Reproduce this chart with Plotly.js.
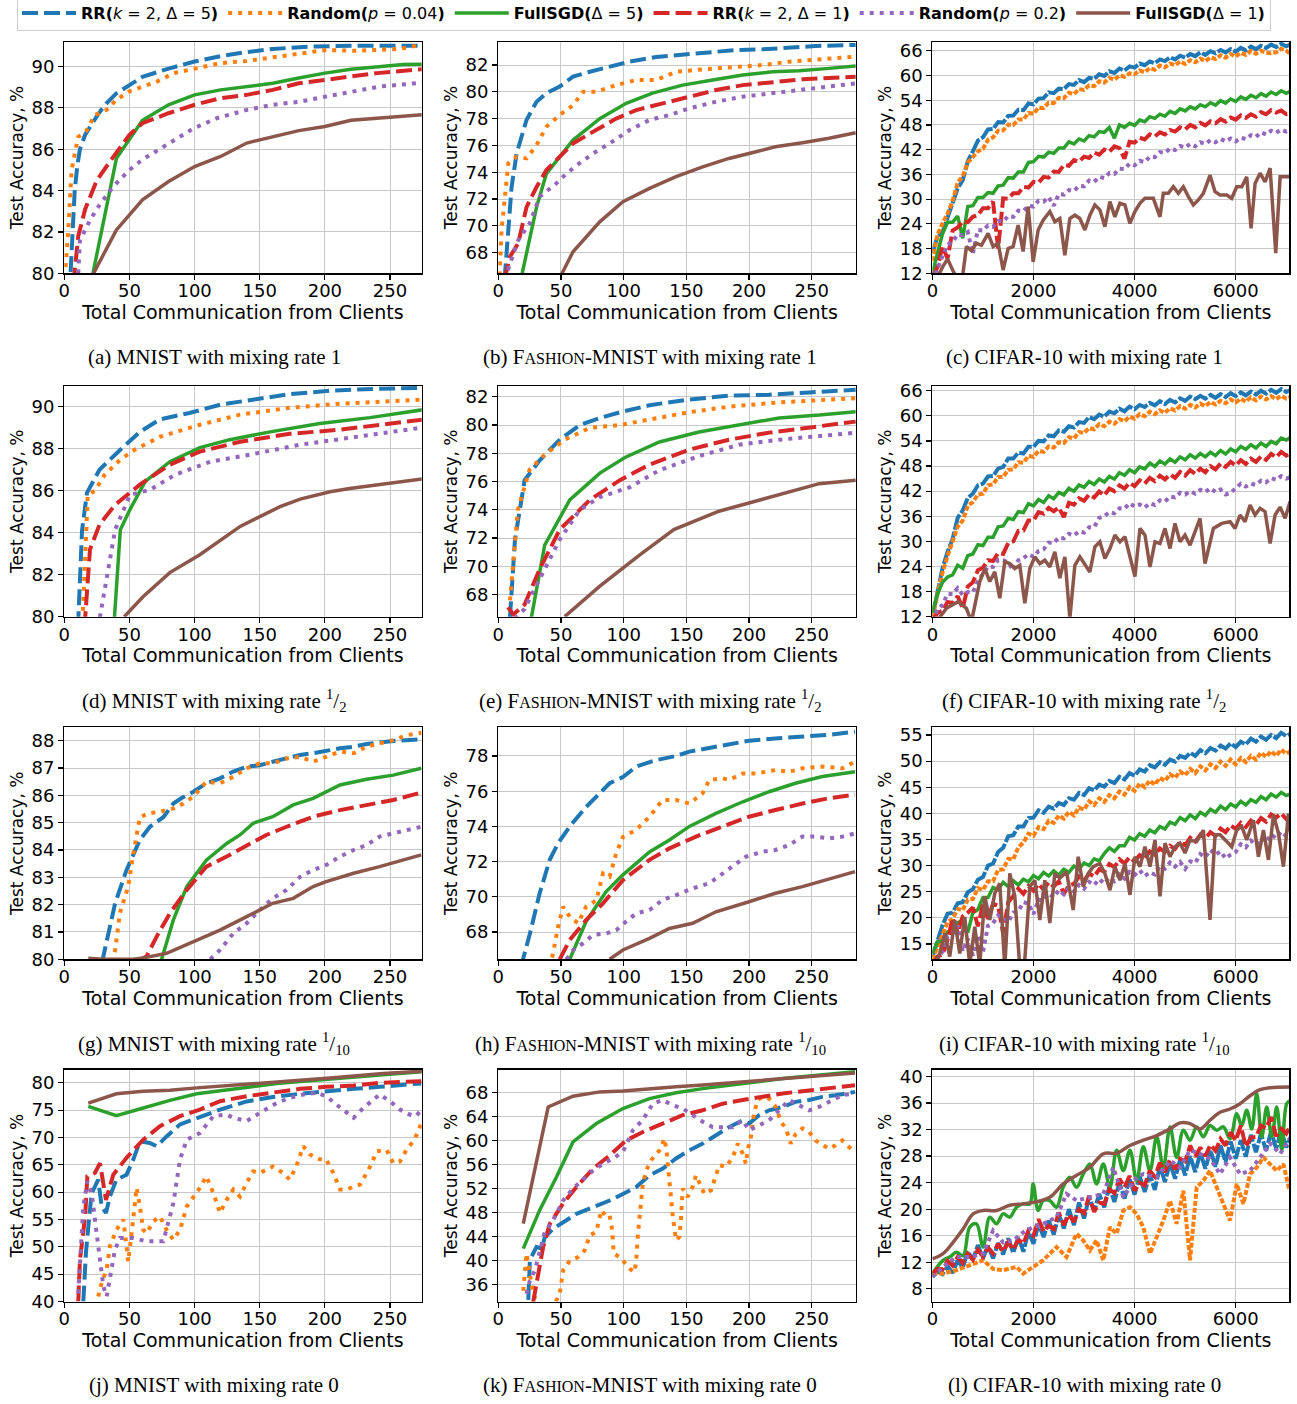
<!DOCTYPE html>
<html><head><meta charset="utf-8">
<script src="https://cdn.plot.ly/plotly-3.0.1.min.js"></script>
<style>body{margin:0;background:#fff}#plot{width:1297px;height:1404px}</style>
</head><body><div id="plot"></div>
<script>
// ---------- series names ----------
const seriesNames = [
  "<b>RR(</b><i>k</i> = 2, Δ = 5<b>)</b>",
  "<b>Random(</b><i>p</i> = 0.04<b>)</b>",
  "<b>FullSGD(</b>Δ = 5<b>)</b>",
  "<b>RR(</b><i>k</i> = 2, Δ = 1<b>)</b>",
  "<b>Random(</b><i>p</i> = 0.2<b>)</b>",
  "<b>FullSGD(</b>Δ = 1<b>)</b>"
];
const captions = [
  "(a) MNIST with mixing rate 1",
  "(b) F<span style='font-size:16px'>ASHION</span>-MNIST with mixing rate 1",
  "(c) CIFAR-10 with mixing rate 1",
  "(d) MNIST with mixing rate <sup>1</sup>/<sub>2</sub>",
  "(e) F<span style='font-size:16px'>ASHION</span>-MNIST with mixing rate <sup>1</sup>/<sub>2</sub>",
  "(f) CIFAR-10 with mixing rate <sup>1</sup>/<sub>2</sub>",
  "(g) MNIST with mixing rate <sup>1</sup>/<sub>10</sub>",
  "(h) F<span style='font-size:16px'>ASHION</span>-MNIST with mixing rate <sup>1</sup>/<sub>10</sub>",
  "(i) CIFAR-10 with mixing rate <sup>1</sup>/<sub>10</sub>",
  "(j) MNIST with mixing rate 0",
  "(k) F<span style='font-size:16px'>ASHION</span>-MNIST with mixing rate 0",
  "(l) CIFAR-10 with mixing rate 0"
];
const xTitle = "Total Communication from Clients";
const yTitle = "Test Accuracy, %";

// ---------- (a) MNIST, mixing 1 ----------
const a_rr5_x=[4,6,8,10,12,16,20,26,32,40,50,60,80,100,120,140,160,190,220,250,274];
const a_rr5_y=[79,82,84,85.2,86,86.7,87.1,87.7,88.2,88.7,89.1,89.5,89.9,90.24,90.5,90.7,90.85,90.97,91.0,90.98,91.0];
const a_r04_x=[1,3,5.6,10.7,17,23.5,32.5,40,50,60,71,84,99,119.5,140,160,181,201,222,242,258,274];
const a_r04_y=[80.3,82,85,86.6,86.9,87.66,87.9,88.4,88.8,89.0,89.27,89.68,89.87,90.16,90.27,90.45,90.6,90.8,90.76,90.8,90.85,91.05];
const a_fs5_x=[20,22,40,60,80,100,120,140,160,180,200,220,240,260,280];
const a_fs5_y=[79.6,80,85.56,87.4,88.15,88.63,88.87,89.03,89.19,89.44,89.68,89.87,89.97,90.1,90.12];
const a_rr1_x=[7,10.7,16,25,35,50,60,80,100,120,140,160,180,200,220,240,280];
const a_rr1_y=[79.5,81.8,83.1,84.5,85.4,86.7,87.26,87.74,88.15,88.47,88.63,88.87,89.19,89.35,89.52,89.68,89.9];
const a_r2_x=[10.7,12,20,27,37.6,50,60,73,84,99,117,140,160,181,201,222,242,280];
const a_r2_y=[80,81.6,82.6,83.3,84.2,85,85.5,86,86.45,87,87.5,87.9,88.15,88.3,88.55,88.8,89.03,89.25];
const a_fs1_x=[20,40,60,80,100,120,140,160,180,200,220,240,280];
const a_fs1_y=[79.7,82.1,83.55,84.44,85.16,85.65,86.3,86.6,86.9,87.1,87.4,87.5,87.7];

// ---------- (b) Fashion-MNIST, mixing 1 ----------
const b_rr5_x=[5,8,10.6,14.6,22.5,30.5,38.4,49,59.6,73,88.8,104.7,126,147,168,189.6,211,232,253,285];
const b_rr5_y=[66,69.7,72.9,75.4,77.9,79.26,79.9,80.4,81.13,81.5,81.88,82.25,82.6,82.75,82.92,83.12,83.17,83.32,83.42,83.5];
const b_r04_x=[1,2.6,5.3,8,14.6,22.5,30.5,38.4,49,59.6,67.6,78,94,110,126,141.8,157.7,173.6,189.6,211,232,253,285];
const b_r04_y=[66.3,69.7,72.2,74.66,75.16,75.03,76.03,77.4,78.27,79.0,80.0,80.0,80.5,80.88,80.88,81.5,81.63,81.75,81.88,82.0,82.25,82.37,82.62];
const b_fs5_x=[18,30.5,38.4,59.6,80.9,102,123,147,171,195,218.7,240,263.8,285];
const b_fs5_y=[66,71.4,73.9,76.4,78.0,79.14,79.9,80.5,80.88,81.25,81.5,81.58,81.75,81.93];
const b_rr1_x=[5,9.3,15.9,22.5,30.5,38.4,49,59.6,78,94,110,131,152.4,173.6,195,218.7,242.6,285];
const b_rr1_y=[66,67.7,68.7,71.4,72.9,74.16,75.16,76.15,77.15,78.0,78.64,79.14,79.64,80.13,80.5,80.75,80.93,81.13];
const b_r2_x=[5,9.3,15.9,25,33,46.4,54.3,62.3,75.6,88.8,104.7,120.6,136.5,152.4,173.6,195,216,237,258.5,285];
const b_r2_y=[66,67.2,68.94,70.18,72.17,73.17,73.9,74.5,75.4,76.15,77.15,77.9,78.27,78.77,79.26,79.64,79.88,80.13,80.38,80.63];
const b_fs1_x=[50,59.6,80.9,99.4,120.6,141.8,163,184,205.5,221,242.6,263.8,285];
const b_fs1_y=[66.3,68.07,70.3,71.8,72.8,73.67,74.4,75.03,75.53,75.9,76.2,76.53,76.95];

// ---------- CIFAR-10 common communication grid ----------
const cx=[0,100,200,300,400,500,600,700,800,900,
1000,1100,1200,1300,1400,1500,1600,1700,1800,1900,
2000,2100,2200,2300,2400,2500,2600,2700,2800,2900,
3000,3100,3200,3300,3400,3500,3600,3700,3800,3900,
4000,4100,4200,4300,4400,4500,4600,4700,4800,4900,
5000,5100,5200,5300,5400,5500,5600,5700,5800,5900,
6000,6100,6200,6300,6400,6500,6600,6700,6800,6900,
7000,7100];

// ---------- (c) CIFAR-10, mixing 1 ----------
const c_rr5_y=[17.0,20.8,22.0,25.6,29.0,32.6,34.6,39.2,41.6,44.2,
45.0,46.9,47.0,48.7,48.6,50.2,50.3,51.7,51.6,53.2,
53.0,54.4,54.5,55.9,55.7,56.8,56.7,57.9,57.7,58.9,
58.4,59.4,59.2,60.3,59.9,61.0,60.6,61.7,61.2,62.2,
61.9,62.9,62.5,63.4,63.0,63.9,63.5,64.4,63.9,64.8,
64.3,65.2,64.7,65.6,65.0,65.9,65.4,66.2,65.6,66.4,
65.8,66.7,66.1,67.0,66.4,67.2,66.7,67.5,66.9,67.7,
67.1,67.6];
const c_r04_y=[15.0,21.4,24.1,26.5,29.6,34.0,35.6,38.9,40.2,41.6,
42.2,44.4,45.0,46.6,46.7,48.1,48.0,49.3,49.3,50.9,
50.7,52.2,52.1,53.4,53.3,54.6,54.5,55.8,55.5,56.7,
56.5,57.6,57.4,58.6,58.3,59.4,59.0,60.0,59.7,60.5,
60.3,61.2,60.8,61.8,61.4,62.4,62.0,62.9,62.5,63.4,
62.8,63.7,63.2,64.1,63.5,64.4,64.0,64.9,64.3,65.2,
64.6,65.5,65.0,65.9,65.3,66.0,65.5,65.4,65.6,66.5,
66.0,65.0];
const c_fs5_y=[12.0,16.5,21.6,24.4,24.4,25.9,20.5,28.2,28.4,30.4,
30.4,31.6,31.4,33.2,33.4,35.2,35.1,36.6,36.6,38.9,
39.1,40.4,40.2,41.4,41.1,42.4,42.4,43.9,43.4,44.6,
44.1,45.4,45.1,46.4,46.2,47.4,44.8,48.0,47.4,48.4,
47.9,49.2,48.8,50.0,49.6,50.6,50.1,51.3,50.8,51.9,
51.4,52.4,51.9,52.9,52.4,53.4,52.8,53.9,53.3,54.3,
53.7,54.8,54.2,55.2,54.6,55.6,55.0,56.0,55.4,56.3,
55.7,56.3];
const c_rr1_y=[11.0,13.5,18.5,15.6,22.4,23.1,24.6,24.4,25.7,26.1,
27.8,27.8,29.4,18.0,30.2,30.1,31.4,31.4,33.0,32.8,
34.2,34.0,35.4,35.2,36.7,36.6,38.3,38.1,39.5,39.1,
40.3,40.0,41.3,40.8,42.0,41.5,42.8,42.4,39.8,43.9,
43.7,44.9,44.5,45.7,45.2,46.2,45.7,46.8,46.4,47.4,
46.9,48.0,47.4,48.5,47.9,48.9,48.4,49.4,48.8,49.8,
49.3,50.3,49.7,50.6,50.0,51.1,50.6,51.6,51.0,51.5,
50.6,50.8];
const c_r2_y=[10.0,13.3,16.2,18.9,19.7,21.4,21.2,22.0,16.8,22.5,
22.4,23.6,23.3,24.7,24.6,25.9,25.7,27.2,27.1,28.4,
28.2,29.6,29.4,30.5,28.4,31.2,31.1,32.2,32.0,33.2,
33.1,34.5,34.2,35.4,35.1,36.3,36.1,37.4,37.3,38.6,
38.2,39.3,39.0,40.3,40.2,41.4,41.2,42.3,41.9,42.9,
42.5,43.4,42.8,43.8,43.4,44.3,43.8,44.6,44.0,44.7,
44.0,44.9,44.6,45.5,45.1,46.2,45.7,46.6,46.1,46.9,
46.4,47.0];
const c_fs1_x=[0,100,200,300,400,500,600,673,772,871,970,1102,1201,1300,1399,1498,1597,1696,1795,1894,1993,2092,2191,2323,2422,2521,2620,2719,2818,2917,3016,3115,3214,3313,3412,3511,3610,3709,3808,3907,4006,4105,4204,4370,4502,4568,4667,4766,4865,4964,5063,5162,5261,5360,5492,5591,5690,5822,5921,6020,6119,6218,6304,6383,6482,6581,6680,6792,6878,7076];
const c_fs1_y=[10,11,13.5,15.5,12.8,10.5,11.5,18.5,17.5,19.3,18.8,21.7,18.5,19.3,12.8,18,18.5,23.7,17.3,28.2,14.8,22.5,24.9,27,24.5,25.3,16.4,25.3,26.1,25.3,22.5,26.1,28.6,27.4,23.3,29.4,25.7,29,28.6,24.1,27,29,30.2,30.2,25.7,31.4,31.4,33,31.4,33,30.6,28.6,29.8,31.4,35.8,31.8,31,31,30.2,33,33,35.4,22.9,33.8,36.3,34.2,37.5,16.9,35.4,35.4];

// ---------- (d) MNIST, mixing 1/2 ----------
const d_rr5_x=[10.5,13.6,17.4,27,43,58,73.5,96,120,142,173,204,242,280];
const d_rr5_y=[79.5,84.1,85.9,87,87.95,88.8,89.4,89.7,90.1,90.3,90.6,90.76,90.86,90.9];
const d_r04_x=[14,18,23.5,31,43,54,73.5,104,135,173,211,280];
const d_r04_y=[79.8,85.8,86,86.76,87.48,87.95,88.57,89.14,89.62,89.95,90.14,90.35];
const d_fs5_x=[38,43,50.4,62,81,104,127,158,196,234.6,280];
const d_fs5_y=[79.5,84.14,85.1,86.43,87.38,88.05,88.43,88.8,89.2,89.48,89.9];
const d_rr1_x=[15.5,19.7,27,39,58,81,104,135,173,211,280];
const d_rr1_y=[79.5,83.2,84.38,85.33,86.29,87.24,87.86,88.33,88.71,88.9,89.42];
const d_r2_x=[26,33.5,39,50.4,66,85,112,142,181,219,280];
const d_r2_y=[79.5,82.24,84.14,85.8,86.05,86.76,87.38,87.71,88.19,88.52,89.05];
const d_fs1_x=[46,60.4,81,104,135,165.6,181,204,219,242,280];
const d_fs1_y=[80,80.95,82.1,82.95,84.3,85.24,85.6,85.95,86.1,86.3,86.6];

// ---------- (e) Fashion-MNIST, mixing 1/2 ----------
const e_rr5_x=[9.3,13.3,21,33,49,65,81,97,120.6,152,184,216,248,285];
const e_rr5_y=[66.4,71.9,76.1,77.5,78.96,80,80.5,80.9,81.4,81.8,82.07,82.14,82.3,82.5];
const e_r04_x=[9.3,15.6,25,37,53,73,97,120.6,152,184,224,285];
const e_r04_y=[67.6,74,76.84,77.9,78.96,79.8,80.0,80.4,80.9,81.3,81.6,81.9];
const e_fs5_x=[26,37,57,81,101,128.5,160,192,224,256,285];
const e_fs5_y=[66.2,71.5,74.7,76.6,77.7,78.8,79.5,80,80.5,80.7,80.94];
const e_rr1_x=[7.7,12,21,33,49,73,97,120.6,152,184,216,248,285];
const e_rr1_y=[67.1,66.6,67.3,69.8,72.6,74.7,76.1,77.2,78.25,78.96,79.46,79.8,80.24];
const e_r2_x=[13.3,21,33,49,65,81,105,128.5,160,192,224,285];
const e_r2_y=[66.3,67,69.1,71.9,74,74.9,75.6,76.8,77.8,78.6,78.96,79.45];
const e_fs1_x=[53,81,112.6,140,176,216,256,285];
const e_fs1_y=[66.45,68.6,70.8,72.6,73.9,74.9,75.85,76.1];

// ---------- (f) CIFAR-10, mixing 1/2 ----------
const f_rr5_y=[12.0,17.4,23.6,27.5,30.6,35.6,37.4,40.4,41.4,43.4,
43.8,45.5,45.6,47.4,47.8,49.8,49.8,51.2,51.0,52.6,
52.6,54.0,53.9,55.3,55.1,56.5,56.2,57.5,57.2,58.5,
58.3,59.7,59.2,60.3,59.8,61.0,60.6,61.7,61.1,62.2,
61.6,62.6,62.1,63.1,62.5,63.5,62.8,63.8,63.2,64.2,
63.6,64.6,64.0,64.8,64.1,65.0,64.3,65.2,64.5,65.4,
64.7,65.6,64.9,65.8,65.1,66.0,65.3,66.2,65.5,66.4,
65.7,66.3];
const f_r04_y=[12.0,17.5,22.5,26.5,29.8,33.5,35.0,38.5,39.4,41.2,
41.4,43.4,43.6,45.4,45.4,47.1,47.2,48.9,48.8,50.4,
50.2,51.6,51.4,52.7,52.4,53.7,53.5,54.9,54.6,56.1,
55.9,57.1,56.8,58.0,57.5,58.6,58.1,59.2,58.7,59.8,
59.3,60.4,59.9,61.0,60.4,61.3,60.7,61.8,61.3,62.3,
61.7,62.6,62.0,62.9,62.3,63.3,62.7,63.6,63.0,63.9,
63.2,64.1,63.4,64.4,63.7,64.6,63.9,64.7,64.0,64.8,
64.1,64.5];
const f_fs5_y=[13.0,17.4,20.2,21.5,22.0,24.3,23.6,26.6,27.0,29.2,
29.0,31.0,31.0,33.5,33.7,35.5,35.2,37.1,36.9,39.0,
38.5,40.0,39.3,40.9,40.2,41.7,41.1,42.7,42.0,43.5,
42.9,44.3,43.6,44.9,44.2,45.5,44.9,46.4,45.8,47.1,
46.4,47.8,47.3,48.7,47.9,49.2,48.5,49.7,48.9,50.2,
49.5,50.7,49.9,51.0,50.2,51.3,50.5,51.7,50.9,52.1,
51.4,52.7,52.0,53.1,52.3,53.5,52.7,53.9,53.3,54.7,
54.2,55.0];
const f_rr1_y=[11.0,12.9,13.4,15.5,15.3,16.9,14.0,19.2,20.2,23.1,
23.7,25.5,25.3,27.2,27.0,29.6,30.0,32.5,32.6,35.0,
35.0,37.0,36.6,38.0,37.2,38.1,35.8,39.2,38.8,40.3,
39.7,41.2,40.5,41.9,41.0,42.6,42.0,43.4,42.6,44.0,
43.2,44.6,43.8,45.2,44.4,45.7,44.8,46.0,45.2,46.6,
45.7,47.0,46.1,47.4,46.5,48.0,47.2,48.6,47.8,49.0,
48.1,49.4,48.5,49.8,49.0,50.3,49.5,50.9,50.1,51.4,
50.5,51.2];
const f_r2_y=[11.0,13.6,14.9,17.4,17.4,18.8,17.2,17.9,17.8,20.5,
22.2,24.0,23.9,25.6,25.5,24.9,23.1,25.5,26.0,26.9,
26.3,27.7,28.1,29.7,29.6,30.9,30.7,31.8,31.4,32.4,
32.1,33.4,33.4,35.6,36.0,37.0,36.7,37.9,37.8,39.1,
38.3,38.8,38.1,39.1,38.7,39.8,39.5,40.7,40.5,41.6,
41.2,42.0,41.4,42.3,41.8,42.7,41.8,42.4,41.2,41.6,
42.7,43.8,43.1,43.8,43.5,44.5,44.1,45.1,44.7,45.6,
45.0,45.4];
const f_fs1_x=[0,79,277,508,673,772,937,1036,1135,1234,1333,1432,1531,1630,1729,1828,1927,2026,2125,2224,2323,2422,2521,2620,2719,2818,2917,3115,3214,3313,3412,3512,3611,3710,3809,4007,4106,4205,4304,4403,4502,4601,4700,4799,4898,4997,5096,5195,5294,5393,5558,5723,5888,5987,6086,6185,6284,6383,6482,6581,6680,6779,6878,6977,7076];
const f_fs1_y=[9,10.8,14,15.6,14,10.8,20.4,23.5,20.4,22.7,16.4,25.1,24.7,23.5,24.3,15.2,23.5,26.3,24.7,25.5,23.9,27.5,21.2,26.3,11.6,24.3,26.3,22.7,28.7,29.9,25.9,28.3,31.5,29.9,31.1,21.6,33.1,31.5,23.9,29.9,29.5,33.1,28.3,34.3,29.9,31.5,29.1,32.3,35.5,24.7,33.1,34.3,34.7,33.1,36.3,34.7,38.7,36.3,37.9,37.1,29.5,36.3,38.2,35.5,39.5];

// ---------- (g) MNIST, mixing 1/10 ----------
const g_rr5_x=[29,39,47.8,58,65.7,76,83.7,90,99,109,119.5,129.7,140,150,160,170.6,181,191,201,211.6,222,232,242,252.5,274];
const g_rr5_y=[79.9,82.05,83.27,84.37,84.85,85.2,85.7,85.9,86.13,86.44,86.62,86.87,87.05,87.1,87.23,87.35,87.48,87.54,87.63,87.72,87.78,87.88,87.93,87.99,88.05];
const g_r04_x=[37,39,42.7,49,53,58,64.5,73.4,83.7,91.3,99,109,119.5,129.7,140,150,160,170.6,181,191,201,211.6,222,232,242,252.5,262.7,274];
const g_r04_y=[79.9,80.34,81.7,82.66,83.88,85.2,85.34,85.4,85.52,85.7,85.95,86.5,86.44,86.68,86.99,87.17,87.17,87.35,87.41,87.23,87.41,87.6,87.54,87.78,87.9,88.02,88.2,88.29];
const g_fs5_x=[73,74.7,83.7,94,109,124.6,134.8,145,160,175.7,191,211.6,232,252.5,274];
const g_fs5_y=[79.9,80,81.44,82.66,83.63,84.24,84.55,84.98,85.22,85.65,85.89,86.38,86.59,86.74,86.99];
const g_rr1_x=[55,63,70.9,81,94,109,124.6,140,155,170.6,191,211.6,232,252.5,274];
const g_rr1_y=[79.9,80.1,80.83,81.68,82.54,83.39,83.76,84.18,84.55,84.85,85.22,85.46,85.65,85.83,86.1];
const g_r2_x=[112,119.5,129.7,140,150,160,170.6,181,191,201,211.6,222,232,242,257.6,274];
const g_r2_y=[80,80.34,80.95,81.32,81.8,82.23,82.54,83.02,83.27,83.45,83.76,84.0,84.18,84.49,84.67,84.85];
const g_fs1_x=[18.4,30,53,63,78.5,99,119.5,140,160,175.7,191,201,222,242,274];
const g_fs1_y=[80.04,80,80,80.07,80.22,80.65,81.07,81.56,82.05,82.23,82.66,82.84,83.15,83.39,83.82];

// ---------- (h) Fashion-MNIST, mixing 1/10 ----------
const h_rr5_x=[18,25.2,33,41,47.7,57,70,78.2,88.8,99.4,110,126,141.8,152.4,168.3,184,200,221,242.6,263.8,284.5];
const h_rr5_y=[66,67.9,70.2,72.1,73.04,74,75.1,75.7,76.45,76.8,77.4,77.77,78,78.25,78.44,78.68,78.87,79,79.1,79.2,79.38];
const h_r04_x=[41,43.7,47.7,51.7,57,63.6,70,78.2,83.5,88.8,94,99.4,110,120.6,131,141.8,152.4,163,168.3,179,184,195,205.5,221,232,242.6,258.5,274.4,284.5];
const h_r04_y=[66,66.8,68.3,69.44,68.87,68.5,69.44,69.8,71.33,71.14,72.47,73.4,73.8,74.55,75.5,75.5,75.3,75.88,76.64,76.73,76.64,77,77,77.2,77.1,77.3,77.4,77.3,77.68];
const h_fs5_x=[57,70,86,99.4,120.6,136.5,152.4,173.6,195,216,237,258.5,284.5];
const h_fs5_y=[66.45,68.6,70.3,71.25,72.55,73.23,74,74.74,75.4,75.97,76.45,76.83,77.1];
const h_rr1_x=[49,57,70,83.5,99.4,120.6,136.5,157.7,179,200,221,242.6,263.8,284.5];
const h_rr1_y=[66.45,67.55,68.68,69.63,70.95,72.1,72.75,73.42,74,74.55,74.93,75.3,75.6,75.8];
const h_r2_x=[54.3,59.7,67.6,75.5,86,94,102,110,120.6,131,141.8,155,168.3,179,189.6,197.5,210.8,221,232,242.6,253,263.8,274.4,284.5];
const h_r2_y=[66.45,66.98,67.36,67.83,67.92,68.1,68.6,69.06,69.25,69.82,70.1,70.48,70.77,71.33,71.9,72.28,72.56,72.66,72.94,73.42,73.42,73.32,73.42,73.6];
const h_fs1_x=[88.8,99.4,120.6,136.5,155,173.6,200,221,242.6,263.8,284.5];
const h_fs1_y=[66.45,66.98,67.64,68.2,68.5,69.15,69.72,70.2,70.58,71,71.43];

// ---------- (i) CIFAR-10, mixing 1/10 ----------
const i_rr5_y=[12.5,15.9,18.6,20.8,21.0,22.8,23.0,24.9,25.5,27.3,
27.8,30.0,30.4,32.6,33.4,35.6,35.8,37.5,37.5,39.1,
39.2,40.6,40.1,41.3,40.9,42.0,41.6,42.9,42.6,43.9,
43.5,44.8,44.4,45.5,45.1,46.2,45.8,47.0,46.5,47.7,
47.2,48.4,48.0,49.2,48.8,49.8,49.3,50.3,49.9,51.0,
50.6,51.6,51.0,52.1,51.5,52.5,52.0,53.0,52.4,53.4,
52.7,53.7,53.2,54.3,53.7,54.7,54.1,55.0,54.4,55.4,
54.8,55.3];
const i_r04_y=[12.0,14.4,16.3,19.2,19.8,21.7,21.5,23.5,23.6,25.7,
25.3,27.0,27.0,29.2,29.3,31.3,31.2,33.5,34.4,36.1,
35.7,37.4,37.0,38.6,38.2,39.6,39.0,40.3,39.6,41.1,
40.7,42.3,41.6,42.9,42.2,43.5,42.9,44.2,43.6,45.0,
44.3,45.7,45.0,46.3,45.5,46.8,46.2,47.5,46.8,48.0,
47.3,48.5,47.7,49.0,48.2,49.4,48.7,49.9,49.1,50.3,
49.4,50.6,49.8,51.0,50.3,51.6,50.8,51.9,51.0,52.2,
51.4,52.0];
const i_fs5_y=[13.2,15.4,15.6,17.3,17.0,19.1,19.5,17.2,21.0,21.6,
23.9,23.9,25.8,25.4,26.8,26.0,27.1,26.3,27.4,26.9,
28.1,27.5,28.7,28.0,29.0,28.2,29.3,28.7,29.9,29.3,
30.5,30.0,31.3,30.9,32.3,33.4,32.7,33.8,33.8,35.4,
34.9,36.1,35.6,36.8,36.3,37.5,37.0,38.3,37.9,39.2,
38.6,39.7,39.0,40.2,39.6,40.8,40.2,41.4,40.7,41.8,
41.2,42.3,41.6,42.6,42.1,43.2,42.6,43.7,43.1,44.0,
43.4,43.8];
const i_rr1_y=[11.0,12.6,13.0,15.8,19.9,17.2,20.3,21.0,22.0,18.4,
22.6,19.8,22.7,22.3,17.0,23.0,24.2,25.6,24.6,26.1,
25.2,26.5,25.4,26.8,26.0,27.0,24.6,26.2,26.5,27.9,
27.1,28.5,27.9,29.3,28.8,30.3,29.7,31.2,30.4,31.6,
30.8,32.0,31.4,32.7,32.1,33.3,32.6,33.8,33.2,34.6,
33.9,35.3,34.6,35.9,35.2,36.4,35.7,37.1,36.4,37.7,
37.0,38.2,37.4,38.6,37.8,39.1,38.4,39.8,39.2,40.0,
38.9,39.4];
const i_r2_y=[10.5,12.2,13.6,16.5,17.0,18.5,13.6,16.0,12.8,16.5,
13.5,18.5,19.0,20.5,20.0,19.2,21.0,21.3,23.0,22.7,
20.7,23.5,23.2,24.6,24.0,25.3,24.5,25.8,25.0,26.3,
25.6,26.9,26.3,27.4,26.6,27.7,27.0,28.3,27.5,28.8,
28.2,29.1,28.0,28.7,28.3,29.9,29.4,30.6,29.8,30.7,
29.4,30.8,30.5,32.2,31.6,33.0,32.1,32.7,31.4,32.1,
32.6,34.1,33.5,34.8,34.0,35.3,34.6,35.9,35.3,36.5,
35.6,36.2];
const i_fs1_x=[0,145,244,343,442,541,640,739,838,937,1036,1135,1234,1333,1432,1531,1630,1729,1828,1927,2026,2125,2224,2323,2422,2521,2653,2785,2884,2983,3083,3182,3313,3412,3512,3611,3710,3809,3908,4007,4106,4205,4304,4403,4502,4601,4700,4799,4898,4997,5096,5228,5360,5492,5591,5690,5822,5921,6020,6119,6218,6350,6449,6548,6647,6746,6845,6944,7043,7089];
const i_fs1_y=[10,13.2,17,12.6,19.6,13.2,20.2,11,18.3,11,24.1,19.6,24.7,26.6,10.5,28.5,24.1,10.5,12,26,27.2,19.6,27.2,19,28.5,27.6,28.8,21.5,31.7,26,28.5,29.8,30.4,28.5,25.3,29.8,27.2,30.4,24.4,31.7,29.8,33.6,29.8,34.9,24.1,34.3,31.7,33.6,34.3,32.4,34.9,34.6,36.8,19.6,35.9,35.9,34.6,33.6,36.8,37.5,34.9,38.7,31.7,36.8,31.1,39.7,36.2,29.8,40,36.2];

// ---------- (j) MNIST, mixing 0 ----------
const j_rr5_x=[14.6,16.6,19.2,21,23.5,26,28.7,32,35,40,47.8,53,58,65.7,71,78.5,88.8,99,109,119.5,140,160,181,201,222,242,274];
const j_rr5_y=[40,48.9,55.6,59.85,61,62.3,57.4,56.2,59.2,62.3,63.2,66,69.3,69,68.4,70.2,72.4,73.3,74.2,75.1,76.6,77.4,78,78.5,78.9,79.27,79.9];
const j_r04_x=[26,28.7,32.5,35,40,45.3,47.8,49,51.7,54.2,55.5,58,60.6,63.2,68.3,73.4,78.5,83.7,88.8,94,99,104,109,114.4,119.5,124.6,129.7,134.8,140,145,150,160,168,173,178,183.4,188.5,196,201,206.5,211.6,216.7,222,227,232,236,239.7,247.4,252.5,257.6,262.7,267.8,271.7,274];
const j_r04_y=[40.9,43.4,45.8,50.1,53.1,55,50.1,47.3,52.5,57.4,60.8,57.4,53.1,52.5,54.66,55.57,53.1,51.3,53.1,57.4,59.2,60.76,62.9,59.85,56.2,58.6,60.5,59.2,61.7,63.8,63.5,64.7,63.5,62.3,64.7,68.4,66.9,66,66,63.5,60.5,60.5,61,61.4,63.5,65.3,67.5,67.7,65.3,65.6,67.8,69.3,71.1,72.7];
const j_fs5_x=[18.4,40,60.6,81,101.6,122,142.5,163,183.4,204,224,244.8,280];
const j_fs5_y=[75.7,74,75.4,76.8,78,78.65,79.27,79.88,80.3,80.73,81.1,81.5,82.1];
const j_rr1_x=[10.7,12,16,17.7,23.5,27.4,32,37.6,47.8,60.6,73.4,88.8,104,119.5,140,160,181,201,222,242,274];
const j_rr1_y=[40,47.6,55.6,62.9,63.5,65.3,58.6,63.2,66.3,69.6,72.06,73.9,75.1,76.64,77.56,78.17,78.9,79.27,79.5,80,80.3];
const j_r2_x=[10.7,12.5,14.6,17.7,21,24.8,27.4,30,32.5,35,38.9,42.7,53,63.2,76,83.7,88.8,94,104,114.4,124.6,129.7,140,150,163,173,183.4,193.6,201,209,216.7,222,229.5,237,242,250,257.6,265,270,274];
const j_r2_y=[41.5,50,57.4,62,59.85,52.5,47.6,42.7,40.9,44.6,49.5,51.6,51.6,51,51,58,65.95,69.6,70.8,73.9,74.2,73.6,73,74.5,76.3,77.25,77.86,78.17,77.56,76,74.5,73.6,75.4,76.95,77.86,76.64,75.1,74.2,73.9,75.1];
const j_fs1_x=[18.4,40,60.6,81,101.6,122,142.5,163,183.4,204,224,244.8,280];
const j_fs1_y=[76.3,78,78.47,78.65,79.08,79.4,79.7,80.1,80.5,80.9,81.34,81.7,82.2];

// ---------- (k) Fashion-MNIST, mixing 0 ----------
const k_rr5_x=[23.9,25.2,27.8,30.5,34.5,37.1,43.7,51.7,62.3,75.6,88.8,99.4,110,120.6,131.2,141.8,152.4,163,173.6,184,194.9,200,208,216,226.7,237,247.9,258.5,269,284.5];
const k_rr5_y=[33.5,40,41.2,42.3,42,43.9,45.3,46.4,47.8,48.9,50,51.1,52.25,54.2,55.3,57,58.35,59.46,60.85,62.2,63.34,62.8,64.2,65,65.56,66.4,66.7,67.23,67.5,68.06];
const k_r04_x=[19.9,22.5,25.2,27.8,38,49,51.7,57,63.6,68.9,72.9,78.2,82.2,86.2,88.8,90.9,92,96.8,99.4,104.7,108.7,110,111.4,113.2,115.3,118,121.9,128.6,132.6,134.4,136,137,139.2,141.8,144.5,145.8,147.1,151,155,157.7,160.4,164.4,169.7,173.6,176.3,181.6,187,191,194.9,197.5,198.8,201.5,204,206.8,210.8,216,221.4,225.4,229.3,233.3,237.3,242.6,247.9,253,258.5,263.8,269,274.4,279.7,284.5];
const k_r04_y=[35,41.2,37.8,34.5,30,34.5,38.4,40,40.6,41.7,44.2,44.8,48.4,47.3,47.5,45,41.2,40.6,40,38.7,38.1,40,44.5,48.4,52.8,55,56.7,58.35,60.3,57.8,54.5,51.1,47.3,43.4,44,47.3,52,50.6,52.25,54.2,53.1,51.1,51.7,53.9,55.9,55.6,57.2,59.46,57.8,56.1,58.35,60.6,64.45,66.7,67.23,66.95,65.56,63.1,62,59.46,61.1,62,61.4,60,59.2,58.6,59.2,60,58.9,58.1];
const k_fs5_x=[19.9,33,46.4,59.6,78.2,99.4,120.6,141.8,163,184,205.5,226.7,284.5];
const k_fs5_y=[42,48.4,53.9,59.74,62.8,65.3,66.95,67.9,68.6,69.17,69.7,70.27,71.4];
const k_rr1_x=[27.8,31.8,35.8,41.1,51.7,62.3,75.6,88.8,102,115.3,131.2,147,163,179,194.9,210.8,226.7,247.9,284.5];
const k_rr1_y=[33.1,37.3,42.3,46.15,49.5,52.25,55.3,57.5,60,61.4,62.8,64.2,65,66.1,66.7,67.23,67.8,68.3,69.17];
const k_r2_x=[22.5,25.2,29.2,31.8,34.5,37.1,43.7,51.7,59.6,67.6,75.6,83.5,91.5,99.4,107.4,115,123.3,131.2,139,147,155,163,171,179,187,194.9,200,208,216,224,232,240,247.9,255.8,263.8,274.4,284.5];
const k_r2_y=[34.5,36.7,38.4,40.6,42.8,44.8,46.7,50,52,53.6,55,56.1,57,58.1,61.7,63.34,66.1,66.7,65.84,65.3,64.2,63.1,62.2,62.2,62.2,63.34,61.7,62.5,63.34,65,66.7,65.84,65,65.56,66.4,67.5,67.8];
const k_fs1_x=[19.9,39.8,59.6,80.9,99.4,120.6,141.8,163,184,205.5,226.7,247.9,284.5];
const k_fs1_y=[46.15,65.56,67.34,68.06,68.2,68.6,68.9,69.2,69.55,69.9,70.3,70.66,71.2];

// ---------- (l) CIFAR-10, mixing 0 ----------
const l_rr5_y=[9.8,10.6,10.2,11.4,10.4,12.3,11.2,13.6,12.4,14.6,
12.6,14.5,12.6,14.9,13.2,15.6,13.4,15.8,13.6,16.6,
14.8,17.8,15.8,18.3,16.2,19.2,17.1,20.0,17.6,21.0,
18.6,21.8,19.7,22.3,20.3,23.4,21.1,24.0,21.6,24.5,
22.2,25.0,22.6,25.3,22.9,26.5,24.1,27.0,24.6,27.5,
25.1,28.0,25.6,28.5,26.1,28.9,26.4,29.6,27.1,30.2,
27.6,30.4,27.9,31.2,28.6,31.4,28.8,31.7,29.1,31.9,
29.3,31.1];
const l_r04_x=[0,211,475,739,1003,1201,1399,1663,1795,1993,2191,2455,2653,2851,2983,3115,3248,3380,3512,3644,3776,3908,4040,4172,4304,4436,4568,4700,4832,4964,5096,5228,5360,5492,5624,5756,5888,6020,6152,6284,6416,6548,6680,6812,6944,7063];
const l_r04_y=[10.3,10.3,10.8,11.5,12.3,11,10.8,11.3,10.3,11.3,12.3,14.3,12.8,16.3,15.3,13.8,15.3,12.3,17.3,16.3,19.8,20.3,19.3,17.3,13.3,15.8,18.3,21.3,17.8,22.8,12.3,23.3,24.3,25.8,23.3,20.8,18.3,23.8,20.8,25.3,26.3,27.8,26.8,25.8,26.8,22.8];
const l_fs5_x=[0,211,343,475,607,739,871,1003,1135,1267,1399,1531,1663,1795,1927,1993,2092,2191,2323,2455,2587,2719,2851,2983,3115,3248,3380,3512,3644,3776,3908,4040,4172,4304,4436,4568,4700,4832,4964,5096,5228,5360,5492,5624,5756,5888,6020,6119,6218,6317,6416,6515,6614,6713,6812,6911,7010,7089];
const l_fs5_y=[10.3,12.3,12.8,13.5,13,17.3,17.8,14.3,18.8,17.8,19.3,18.8,20.3,20.8,20.8,23.8,19.8,21.3,21.3,20.3,23.3,24.8,23.3,25.3,26.8,23.8,26.8,23.3,28.9,25.8,28.9,24.3,29.4,25.8,30.9,26.3,32.4,27.8,31.9,30.4,32.4,30.9,32.6,31.9,32.4,30.6,34.4,32.6,34.9,32.1,37.4,30.9,35.4,30.9,35.4,28.9,35.9,36.4];
const l_rr1_y=[10.3,11.0,10.9,12.2,11.5,12.8,11.9,13.3,12.4,13.9,
12.9,14.2,13.3,14.8,13.6,15.0,13.9,15.4,14.8,16.8,
16.0,18.5,16.6,17.5,17.0,19.5,17.6,19.2,18.1,20.0,
19.4,22.0,19.6,21.0,20.8,23.0,22.4,24.6,23.3,25.0,
22.8,24.0,23.6,25.8,24.9,27.0,25.6,27.5,26.0,27.6,
27.2,29.6,27.9,29.3,28.0,29.7,28.8,30.6,29.6,31.6,
30.3,32.6,29.4,30.8,30.9,32.6,32.2,33.9,31.0,32.1,
31.4,32.8];
const l_r2_x=[0,211,475,739,1003,1201,1399,1597,1795,1993,2191,2455,2653,2851,3115,3380,3578,3776,4040,4172,4436,4700,4898,5096,5294,5492,5690,5888,6086,6284,6482,6680,6878,7063];
const l_r2_y=[9.8,11.3,12.8,12.8,13.3,16.8,15,15.3,16.5,17.3,17.8,18.8,22.3,21.3,21.8,22.3,26.3,21.8,24.8,25.3,24.8,27.3,26.3,28.9,28.35,27.6,25.3,27.8,25.3,25.8,27.8,29.9,28.35,30.6];
const l_fs1_x=[0,211,409,607,805,1003,1267,1531,1795,2059,2323,2587,2851,3115,3380,3644,3908,4172,4436,4700,4898,5096,5294,5492,5690,5888,6086,6284,6482,6680,7063];
const l_fs1_y=[12.5,13.3,15,17,19.3,19.8,19.8,20.6,20.8,21.1,21.8,23.8,25.1,26.3,28.35,28.45,29.6,30.4,31.1,32.1,33,32.9,32.1,33.4,34.6,35.1,35.9,37.1,38,38.3,38.4];

// ---------- axis ticks ----------
const mnistXTicks=[0,50,100,150,200,250];
const cifarXTicks=[0,2000,4000,6000];

// ---------- build ----------
const FONT='DejaVu Sans';
const styles=[
  {color:'#1f77b4',dash:'16px,6px',width:4},
  {color:'#ff7f0e',dash:'4px,6px',width:4},
  {color:'#2ca02c',dash:'solid',width:3.5},
  {color:'#d62728',dash:'16px,6px',width:4},
  {color:'#9467bd',dash:'4px,6px',width:4},
  {color:'#8c564b',dash:'solid',width:3.5}
];
// dense noisy CIFAR curves: the dash pattern is mostly hidden by the jitter
const cifarDash=['16px,2px','5px,2px','solid','14px,4px','4px,4px','solid'];
const colDom=[[64.3,421.7],[498.3,856],[932.4,1289.3]];
const rowDom=[[41.7,273.3],[385.7,616.7],[727.3,959.3],[1069.5,1301.5]];
const W=1297,H=1404;

const panels=[
 {xr:[0,274.3],yr:[80,91.2],yt:[80,82,84,86,88,90],xt:mnistXTicks,s:[[a_rr5_x,a_rr5_y],[a_r04_x,a_r04_y],[a_fs5_x,a_fs5_y],[a_rr1_x,a_rr1_y],[a_r2_x,a_r2_y],[a_fs1_x,a_fs1_y]]},
 {xr:[0,285.3],yr:[66.46,83.74],yt:[68,70,72,74,76,78,80,82],xt:mnistXTicks,s:[[b_rr5_x,b_rr5_y],[b_r04_x,b_r04_y],[b_fs5_x,b_fs5_y],[b_rr1_x,b_rr1_y],[b_r2_x,b_r2_y],[b_fs1_x,b_fs1_y]]},
 {xr:[0,7060],yr:[12,68.2],yt:[12,18,24,30,36,42,48,54,60,66],xt:cifarXTicks,cifar:true,s:[[cx,c_rr5_y],[cx,c_r04_y],[cx,c_fs5_y],[cx,c_rr1_y],[cx,c_r2_y],[c_fs1_x,c_fs1_y]]},
 {xr:[0,274.3],yr:[80,91.0],yt:[80,82,84,86,88,90],xt:mnistXTicks,s:[[d_rr5_x,d_rr5_y],[d_r04_x,d_r04_y],[d_fs5_x,d_fs5_y],[d_rr1_x,d_rr1_y],[d_r2_x,d_r2_y],[d_fs1_x,d_fs1_y]]},
 {xr:[0,285.3],yr:[66.44,82.78],yt:[68,70,72,74,76,78,80,82],xt:mnistXTicks,s:[[e_rr5_x,e_rr5_y],[e_r04_x,e_r04_y],[e_fs5_x,e_fs5_y],[e_rr1_x,e_rr1_y],[e_r2_x,e_r2_y],[e_fs1_x,e_fs1_y]]},
 {xr:[0,7060],yr:[12,67.2],yt:[12,18,24,30,36,42,48,54,60,66],xt:cifarXTicks,cifar:true,s:[[cx,f_rr5_y],[cx,f_r04_y],[cx,f_fs5_y],[cx,f_rr1_y],[cx,f_r2_y],[f_fs1_x,f_fs1_y]]},
 {xr:[0,274.3],yr:[80,88.49],yt:[80,81,82,83,84,85,86,87,88],xt:mnistXTicks,s:[[g_rr5_x,g_rr5_y],[g_r04_x,g_r04_y],[g_fs5_x,g_fs5_y],[g_rr1_x,g_rr1_y],[g_r2_x,g_r2_y],[g_fs1_x,g_fs1_y]]},
 {xr:[0,285.3],yr:[66.45,79.63],yt:[68,70,72,74,76,78],xt:mnistXTicks,s:[[h_rr5_x,h_rr5_y],[h_r04_x,h_r04_y],[h_fs5_x,h_fs5_y],[h_rr1_x,h_rr1_y],[h_r2_x,h_r2_y],[h_fs1_x,h_fs1_y]]},
 {xr:[0,7060],yr:[12.07,56.47],yt:[15,20,25,30,35,40,45,50,55],xt:cifarXTicks,cifar:true,s:[[cx,i_rr5_y],[cx,i_r04_y],[cx,i_fs5_y],[cx,i_rr1_y],[cx,i_r2_y],[i_fs1_x,i_fs1_y]]},
 {xr:[0,274.3],yr:[40,82.44],yt:[40,45,50,55,60,65,70,75,80],xt:mnistXTicks,s:[[j_rr5_x,j_rr5_y],[j_r04_x,j_r04_y],[j_fs5_x,j_fs5_y],[j_rr1_x,j_rr1_y],[j_r2_x,j_r2_y],[j_fs1_x,j_fs1_y]]},
 {xr:[0,285.3],yr:[33.22,71.78],yt:[36,40,44,48,52,56,60,64,68],xt:mnistXTicks,s:[[k_rr5_x,k_rr5_y],[k_r04_x,k_r04_y],[k_fs5_x,k_fs5_y],[k_rr1_x,k_rr1_y],[k_r2_x,k_r2_y],[k_fs1_x,k_fs1_y]]},
 {xr:[0,7060],yr:[6.09,41.05],yt:[8,12,16,20,24,28,32,36,40],xt:cifarXTicks,cifar:true,spline:[2,5],s:[[cx,l_rr5_y],[l_r04_x,l_r04_y],[l_fs5_x,l_fs5_y],[cx,l_rr1_y],[l_r2_x,l_r2_y],[l_fs1_x,l_fs1_y]]}
];

const traces=[];
const layout={
  width:W,height:H,margin:{l:0,r:0,t:0,b:0,autoexpand:false},
  paper_bgcolor:'#fff',plot_bgcolor:'#fff',
  font:{family:FONT,color:'#000'},
  showlegend:true,
  legend:{orientation:'h',x:17/W,y:1+5/H,xanchor:'left',yanchor:'top',
    bgcolor:'#fff',bordercolor:'#cccccc',borderwidth:1,
    font:{family:FONT,size:16,color:'#000'},itemwidth:54,tracegroupgap:0},
  annotations:[]
};

panels.forEach((p,idx)=>{
  const col=idx%3,row=Math.floor(idx/3);
  const n=idx+1, xs=n===1?'':String(n);
  const xd=[colDom[col][0]/W,colDom[col][1]/W];
  const yd=[1-rowDom[row][1]/H,1-rowDom[row][0]/H];
  const common={showline:true,mirror:true,linecolor:'#000',linewidth:1.2,
    ticks:'outside',ticklen:5,tickwidth:1.2,tickcolor:'#000',
    showgrid:true,gridcolor:'#c8c8c8',gridwidth:1,zeroline:false,
    tickfont:{family:FONT,size:18,color:'#000'},fixedrange:true};
  layout['xaxis'+xs]=Object.assign({},common,{domain:xd,range:p.xr,anchor:'y'+xs,tickmode:'array',tickvals:p.xt,
    ticklabelstandoff:-4,
    title:{text:xTitle,font:{family:FONT,size:19,color:'#000'},standoff:4}});
  layout['yaxis'+xs]=Object.assign({},common,{domain:yd,range:p.yr,anchor:'x'+xs,tickmode:'array',tickvals:p.yt,
    title:{text:yTitle,font:{family:FONT,size:17,color:'#000'},standoff:3}});
  p.s.forEach((sr,k)=>{
    const st=styles[k];
    traces.push({type:'scatter',mode:'lines',x:sr[0],y:sr[1],xaxis:'x'+xs,yaxis:'y'+xs,
      name:seriesNames[k],legendgroup:'g'+k,showlegend:idx===0,hoverinfo:'skip',
      line:{color:st.color,dash:p.cifar?cifarDash[k]:st.dash,width:st.width,
        shape:(p.spline&&p.spline.includes(k))?'spline':'linear'}});
  });
  const capX=[214,650,1084][col], capY=[357,701,1043,1385][row];
  layout.annotations.push({xref:'paper',yref:'paper',x:capX/W,y:1-capY/H,xanchor:'center',yanchor:'middle',
    showarrow:false,text:captions[idx],font:{family:'Liberation Serif',size:21,color:'#000'}});
});

Plotly.newPlot('plot',traces,layout,{staticPlot:true,displayModeBar:false});
</script>
</body></html>
